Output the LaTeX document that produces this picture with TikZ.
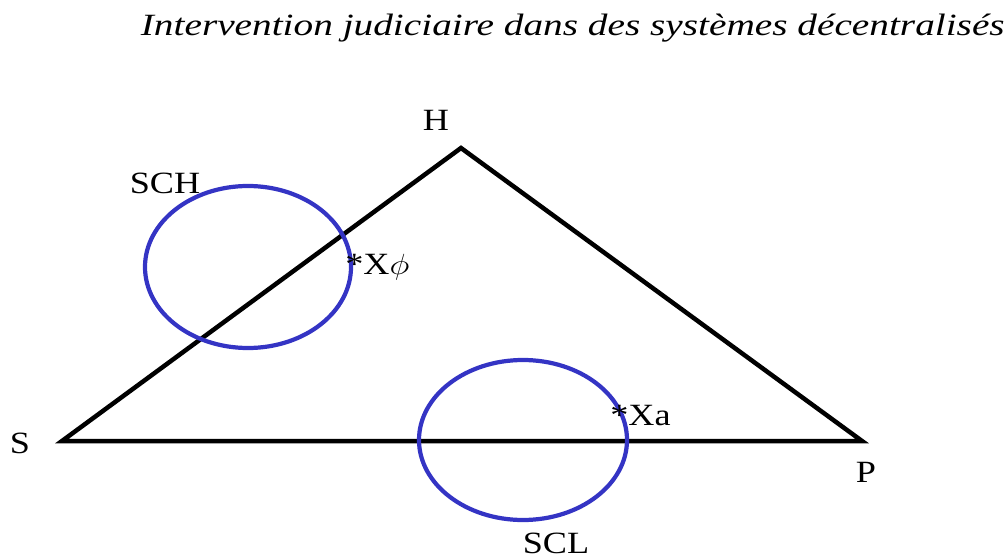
\documentclass[tikz,border=0pt]{standalone}
\usepackage{fontspec}
\setmainfont{Liberation Serif}
\usepackage{tikz}
\usetikzlibrary{positioning}
\definecolor{zoneblue}{RGB}{52,52,196}
\tikzset{
  tri/.style={line width=3.2pt, line join=miter, black},
  zone/.style={line width=3pt, zoneblue},
  lbl/.style={font=\fontsize{22}{24}\selectfont, inner sep=0pt},
  ttl/.style={font=\fontsize{22}{24}\selectfont\itshape, inner sep=0pt}
}
\newcommand{\widetxt}[1]{\scalebox{1.17}[1]{#1}}
\newcommand{\widettl}[1]{\scalebox{1.27}[1]{#1}}

\begin{document}
\begin{tikzpicture}[x=0.025cm, y=-0.025cm]
\useasboundingbox (0,0) rectangle (1008,558);
\node[ttl, anchor=east] (title) at (1005,28) {\widettl{Intervention judiciaire dans des systèmes décentralisés}};
% triangle
\coordinate (s) at (62,441); \coordinate (h) at (461,148); \coordinate (p) at (862,441);
\draw[tri] (s) -- (h) -- (p) -- cycle;
\node[lbl] (lS) at (20,443) {\widetxt{S}};
\node[lbl] (lH) at (436,120) {\widetxt{H}};
\node[lbl] (lP) at (866,472) {\widetxt{P}};
% zones
\draw[zone] (248,267) ellipse (103 and 81);
\draw[zone] (523,440) ellipse (104 and 80);
\node[lbl] (lSCH) at (165,183) {\widetxt{SCH}};
\node[lbl] (lSCL) at (556,543) {\widetxt{SCL}};
\node[lbl, anchor=west] (xphi) at (345,267) {\widetxt{*X$\phi$}};
\node[lbl, anchor=west] (xa) at (610,416) {\widetxt{*Xa}};
\end{tikzpicture}
\end{document}
